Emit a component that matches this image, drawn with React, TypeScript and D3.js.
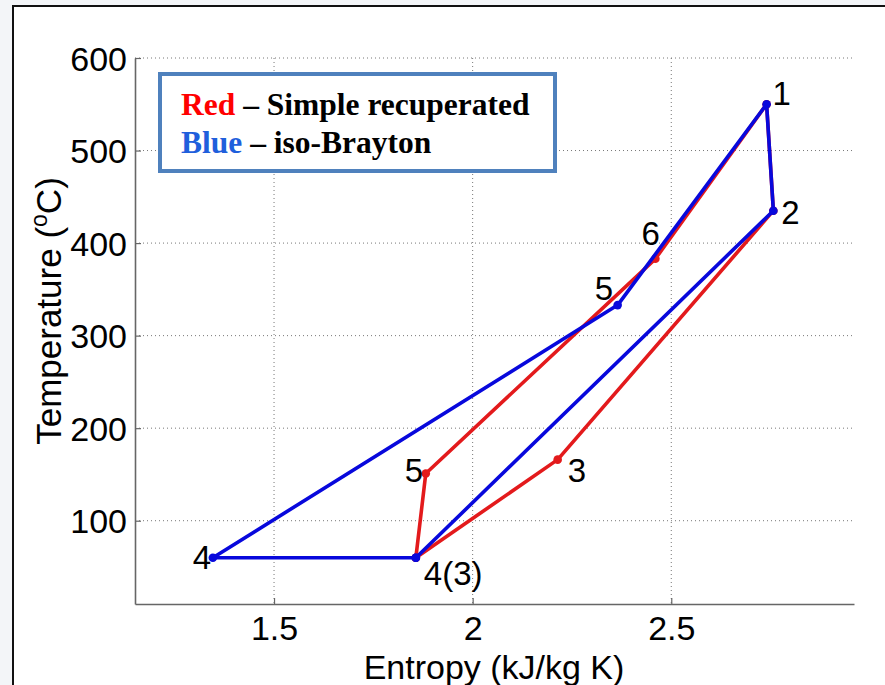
import { useEffect, useRef } from "react";
import * as d3 from "d3";

// state points (entropy kJ/kg K, temperature °C)
const blueLabels = ["4(3)", "2", "1", "5", "4", "4(3)"];
const blueEntropy = [1.857, 2.757, 2.74, 2.365, 1.346, 1.857];
const blueTemp = [60, 435, 550, 333, 60, 60];

const redLabels = ["4(3)", "5", "6", "1", "2", "3", "4(3)"];
const redEntropy = [1.857, 1.882, 2.46, 2.74, 2.757, 2.214, 1.857];
const redTemp = [60, 151, 383, 550, 435, 166, 60];

const xTicks = [1.5, 2, 2.5];
const yTicks = [100, 200, 300, 400, 500, 600];

// where the point numbers sit relative to their state
const pointLabels = [
  { text: "1", s: 2.74, t: 550, dx: 6, dy: 1 },
  { text: "2", s: 2.757, t: 435, dx: 8, dy: 13 },
  { text: "6", s: 2.46, t: 383, dx: -14, dy: -14 },
  { text: "5", s: 2.365, t: 333, dx: -23, dy: -5 },
  { text: "5", s: 1.882, t: 151, dx: -21, dy: 8 },
  { text: "3", s: 2.214, t: 166, dx: 10, dy: 22 },
  { text: "4", s: 1.346, t: 60, dx: -20, dy: 11 },
  { text: "4(3)", s: 1.857, t: 60, dx: 8, dy: 27 },
];

const W = 885;
const H = 685;
const margin = { top: 58, right: 31, bottom: 81, left: 135 };

export default function App() {
  const ref = useRef<SVGSVGElement>(null);

  useEffect(() => {
    const svg = d3.select(ref.current);
    svg.selectAll("*").remove();

    const x = d3.scaleLinear([1.15, 2.96], [margin.left, W - margin.right]);
    const y = d3.scaleLinear([10, 600], [H - margin.bottom, margin.top]);

    svg.append("rect").attr("width", W).attr("height", H).attr("fill", "#f3f5f8");
    svg
      .append("rect")
      .attr("x", 13)
      .attr("y", 6)
      .attr("width", W + 10)
      .attr("height", H + 10)
      .attr("fill", "#fff")
      .attr("stroke", "#111")
      .attr("stroke-width", 2);

    // dotted grid
    const grid = svg.append("g").attr("stroke", "#777").attr("stroke-width", 1).attr("stroke-dasharray", "1,3");
    grid
      .selectAll("line.h")
      .data(yTicks)
      .join("line")
      .attr("x1", margin.left)
      .attr("x2", W - margin.right)
      .attr("y1", (d) => y(d))
      .attr("y2", (d) => y(d));
    grid
      .selectAll("line.v")
      .data(xTicks)
      .join("line")
      .attr("x1", (d) => x(d))
      .attr("x2", (d) => x(d))
      .attr("y1", margin.top)
      .attr("y2", H - margin.bottom);

    const font = "'Liberation Sans', Arial, sans-serif";

    const xAxis = svg
      .append("g")
      .attr("transform", `translate(0,${H - margin.bottom})`)
      .call(d3.axisBottom(x).tickValues(xTicks).tickSizeInner(-6).tickSizeOuter(0).tickPadding(12).tickFormat(d3.format("")));
    const yAxis = svg
      .append("g")
      .attr("transform", `translate(${margin.left},0)`)
      .call(d3.axisLeft(y).tickValues(yTicks).tickSizeInner(-6).tickSizeOuter(0).tickPadding(8).tickFormat(d3.format("d")));
    [xAxis, yAxis].forEach((a) => {
      a.select(".domain").attr("stroke", "#666").attr("stroke-width", 1.6);
      a.selectAll(".tick line").attr("stroke", "#666").attr("stroke-width", 1.2);
      a.selectAll(".tick text")
        .attr("fill", "#000")
        .style("font-family", font)
        .style("font-size", "34px");
    });
    xAxis.selectAll(".tick text").attr("dy", "0.71em");
    yAxis.selectAll(".tick text").attr("dy", "0.36em");

    // cycles: red underneath, blue on top
    const drawCycle = (ent: number[], temp: number[], color: string) => {
      const pts = ent.map((s, i) => [s, temp[i]] as [number, number]);
      const path = d3.line<[number, number]>().x((d) => x(d[0])).y((d) => y(d[1]));
      svg
        .append("path")
        .attr("d", path(pts))
        .attr("fill", "none")
        .attr("stroke", color)
        .attr("stroke-width", 3.6)
        .attr("stroke-linejoin", "round");
      svg
        .append("g")
        .selectAll("circle")
        .data(pts)
        .join("circle")
        .attr("cx", (d) => x(d[0]))
        .attr("cy", (d) => y(d[1]))
        .attr("r", 4.3)
        .attr("fill", color);
    };
    drawCycle(redEntropy, redTemp, "#e31a1c");
    drawCycle(blueEntropy, blueTemp, "#0808dc");

    svg
      .append("g")
      .selectAll("text")
      .data(pointLabels)
      .join("text")
      .attr("x", (d) => x(d.s) + d.dx)
      .attr("y", (d) => y(d.t) + d.dy)
      .style("font-family", font)
      .style("font-size", "33px")
      .attr("fill", "#000")
      .text((d) => d.text);

    // axis titles
    svg
      .append("text")
      .attr("x", 494)
      .attr("y", 679)
      .attr("text-anchor", "middle")
      .style("font-family", font)
      .style("font-size", "34px")
      .text("Entropy (kJ/kg K)");

    const yl = svg
      .append("text")
      .attr("transform", "translate(61,311) rotate(-90)")
      .attr("text-anchor", "middle")
      .style("font-family", font)
      .style("font-size", "35px");
    yl.append("tspan").text("Temperature (");
    yl.append("tspan").attr("dy", -14).style("font-size", "23px").text("o");
    yl.append("tspan").attr("dy", 14).text("C)");

    // legend box
    svg
      .append("rect")
      .attr("x", 160)
      .attr("y", 74)
      .attr("width", 395)
      .attr("height", 97)
      .attr("fill", "#fff")
      .attr("stroke", "#4f81bd")
      .attr("stroke-width", 4);
    const serif = "'Liberation Serif', 'Times New Roman', serif";
    const leg = [
      { key: "Red", color: "#ff0000", rest: " \u2013 Simple recuperated", yy: 115 },
      { key: "Blue", color: "#1f5fdc", rest: " \u2013 iso-Brayton", yy: 153 },
    ];
    leg.forEach((l) => {
      const t = svg
        .append("text")
        .attr("x", 181)
        .attr("y", l.yy)
        .style("font-family", serif)
        .style("font-weight", "bold")
        .style("font-size", "31.5px");
      t.append("tspan").attr("fill", l.color).text(l.key);
      t.append("tspan").attr("fill", "#000").text(l.rest);
    });
  }, []);

  return <svg ref={ref} width={W} height={H} style={{ position: "absolute", left: 0, top: 0 }} />;
}
